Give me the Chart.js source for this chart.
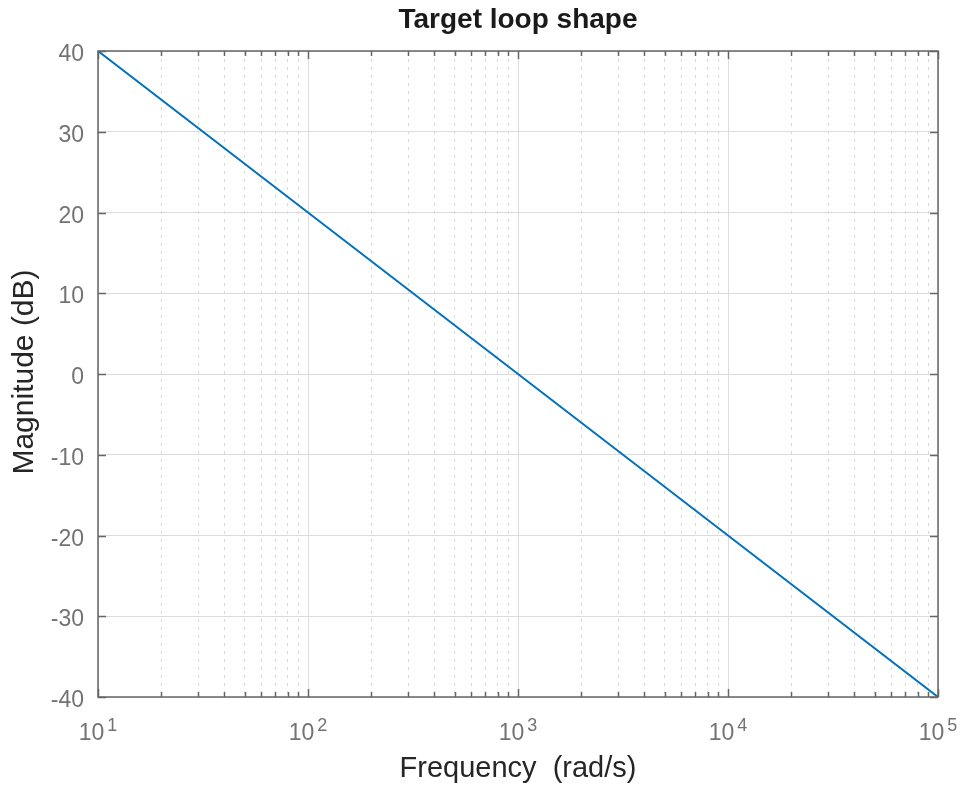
<!DOCTYPE html>
<html>
<head>
<meta charset="utf-8">
<script src="https://cdn.jsdelivr.net/npm/chart.js@4/dist/chart.umd.min.js"></script>
<style>
  html, body { margin: 0; padding: 0; background: #fff; }
  canvas { display: block; }
</style>
</head>
<body>
<canvas id="loop_shape_chart" width="966" height="785"></canvas>
<script>
// frequency response of the target loop shape
const frequencies = [10, 100, 1000, 10000, 100000];
const magnitudesDb = [40, 20, 0, -20, -40];

// axis ticks
const decadeTicks = [10, 100, 1000, 10000, 100000];
const decadeExponents = ["1", "2", "3", "4", "5"];
const magnitudeTicks = [-40, -30, -20, -10, 0, 10, 20, 30, 40];

const minorTicks = [];
decadeTicks.slice(0, -1).forEach((d) => {
  for (let m = 2; m <= 9; m++) minorTicks.push(d * m);
});

const FONT = "'Liberation Sans', Arial, Helvetica, sans-serif";

const axesPlugin = {
  id: "matlabAxes",
  afterDraw(chart) {
    const ctx = chart.ctx;
    const a = chart.chartArea;
    const xs = chart.scales.x;
    const ys = chart.scales.y;
    ctx.save();

    // inward tick marks
    ctx.strokeStyle = "#666";
    ctx.lineWidth = 1.5;
    ctx.beginPath();
    decadeTicks.forEach((v) => {
      const px = Math.round(xs.getPixelForValue(v)) + 0.5;
      ctx.moveTo(px, a.bottom); ctx.lineTo(px, a.bottom - 8);
      ctx.moveTo(px, a.top); ctx.lineTo(px, a.top + 8);
    });
    minorTicks.forEach((v) => {
      const px = Math.round(xs.getPixelForValue(v)) + 0.5;
      ctx.moveTo(px, a.bottom); ctx.lineTo(px, a.bottom - 5);
      ctx.moveTo(px, a.top); ctx.lineTo(px, a.top + 5);
    });
    magnitudeTicks.forEach((v) => {
      const py = Math.round(ys.getPixelForValue(v)) + 0.5;
      ctx.moveTo(a.left, py); ctx.lineTo(a.left + 8, py);
      ctx.moveTo(a.right, py); ctx.lineTo(a.right - 8, py);
    });
    ctx.stroke();
    ctx.strokeRect(a.left, a.top, a.right - a.left, a.bottom - a.top);

    // y tick labels
    ctx.fillStyle = "#737373";
    ctx.font = "23px " + FONT;
    ctx.textAlign = "right";
    ctx.textBaseline = "alphabetic";
    magnitudeTicks.forEach((v) => {
      ctx.fillText(String(v), 84, ys.getPixelForValue(v) + 10);
    });

    // x tick labels, 10 with a raised exponent
    ctx.textAlign = "left";
    decadeTicks.forEach((v, i) => {
      ctx.font = "23px " + FONT;
      const wBase = ctx.measureText("10").width;
      ctx.font = "18px " + FONT;
      const wExp = ctx.measureText(decadeExponents[i]).width;
      const x0 = xs.getPixelForValue(v) - (wBase + wExp + 3) / 2;
      ctx.font = "23px " + FONT;
      ctx.fillText("10", x0, 740);
      ctx.font = "18px " + FONT;
      ctx.fillText(decadeExponents[i], x0 + wBase + 3, 731);
    });

    // title and axis labels
    ctx.textAlign = "center";
    ctx.fillStyle = "#1a1a1a";
    ctx.font = "bold 28px " + FONT;
    ctx.fillText("Target loop shape", (a.left + a.right) / 2, 28);

    ctx.fillStyle = "#262626";
    ctx.font = "29px " + FONT;
    ctx.fillText("Frequency  (rad/s)", (a.left + a.right) / 2, 777);

    ctx.font = "30px " + FONT;
    ctx.translate(33, 372);
    ctx.rotate(-Math.PI / 2);
    ctx.fillText("Magnitude (dB)", 0, 0);

    ctx.restore();
  }
};

const loopChart = new Chart(document.getElementById("loop_shape_chart").getContext("2d"), {
  type: "line",
  data: {
    datasets: [{
      label: "Target loop shape",
      data: frequencies.map((f, i) => ({ x: f, y: magnitudesDb[i] })),
      borderColor: "rgb(0, 114, 189)",
      borderWidth: 2,
      pointRadius: 0,
      fill: false,
      tension: 0
    }]
  },
  options: {
    responsive: false,
    animation: false,
    devicePixelRatio: 1,
    layout: { padding: { top: 51, right: 28, left: 0, bottom: 0 } },
    plugins: { legend: { display: false }, tooltip: { enabled: false } },
    scales: {
      x: {
        type: "logarithmic",
        position: "bottom",
        min: 10,
        max: 100000,
        afterBuildTicks: (axis) => { axis.ticks = decadeTicks.map((v) => ({ value: v })); },
        afterFit: (axis) => { axis.height = 88; },
        ticks: { display: false },
        grid: { color: "#dcdcdc", lineWidth: 1, drawTicks: false },
        border: { display: false }
      },
      xMinor: {
        type: "logarithmic",
        position: "bottom",
        min: 10,
        max: 100000,
        afterBuildTicks: (axis) => { axis.ticks = minorTicks.map((v) => ({ value: v })); },
        afterFit: (axis) => { axis.height = 0; },
        ticks: { display: false },
        grid: { color: "#dadada", lineWidth: 1, drawTicks: false },
        border: { display: false, dash: [3, 5] }
      },
      y: {
        type: "linear",
        min: -40,
        max: 40,
        afterBuildTicks: (axis) => { axis.ticks = magnitudeTicks.map((v) => ({ value: v })); },
        afterFit: (axis) => { axis.width = 98; },
        ticks: { display: false },
        grid: { color: "#dcdcdc", lineWidth: 1, drawTicks: false },
        border: { display: false }
      }
    }
  },
  plugins: [axesPlugin]
});
</script>
</body>
</html>
